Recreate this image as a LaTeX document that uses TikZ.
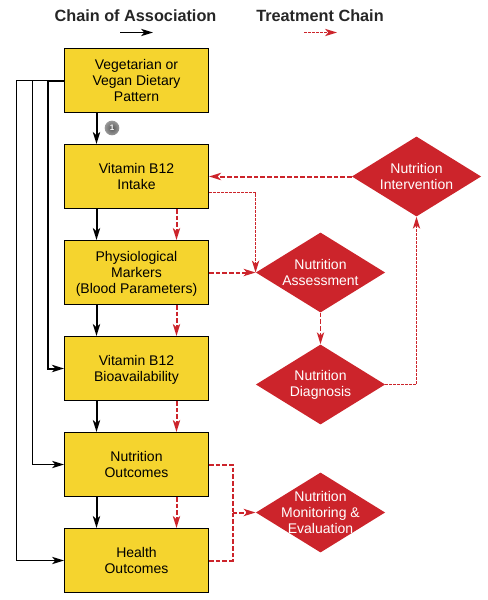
\documentclass[tikz,border=0pt]{standalone}
\usepackage{fontspec}
\setmainfont{Liberation Sans}
\usetikzlibrary{shapes.geometric,arrows.meta}
\definecolor{boxyellow}{HTML}{F5D42E}
\definecolor{chainred}{HTML}{CC242B}
\begin{document}
\begin{tikzpicture}[
    x=0.75pt, y=-0.75pt,
    >={Stealth[length=9pt,width=5.5pt,inset=2.5pt]},
    factor/.style={draw, line width=0.75pt, rectangle, minimum width=108pt, minimum height=48pt, align=center, fill=boxyellow, font=\fontsize{10.5}{12}\selectfont},
    action/.style={diamond, aspect=1.6, inner sep=-8pt, minimum width=97pt, minimum height=60pt, align=center, fill=chainred, text=white, font=\fontsize{10.5}{12}\selectfont},
    heading/.style={font=\fontsize{12.2}{14}\selectfont\bfseries, text=black!85},
    assoc/.style={->, line width=1.5pt},
    assocthin/.style={->, line width=0.75pt},
    treat/.style={->, draw=chainred, line width=1.5pt, dash pattern=on 3.5pt off 1.5pt},
    treatthin/.style={->, draw=chainred, line width=0.75pt, dash pattern=on 2.25pt off 0.75pt}
]
  \useasboundingbox (0,0) rectangle (488,600);

  % Legend
  \node[heading] (chainhead) at (135.5,16) {Chain of Association};
  \node[heading] (treathead) at (320,16) {Treatment Chain};
  \coordinate (assocstart) at (120,32.5);
  \coordinate (assocend) at (153,32.5);
  \coordinate (treatstart) at (304,32.5);
  \coordinate (treatend) at (337,32.5);
  \draw[assocthin] (assocstart) -- (assocend);
  \draw[treatthin] (treatstart) -- (treatend);

  % Chain of association
  \node[factor] (diet) at (136.5,80.5) {Vegetarian or\\Vegan Dietary\\Pattern};
  \node[factor] (intake) at (136.5,176.5) {Vitamin B12\\Intake};
  \node[factor] (markers) at (136.5,272.5) {Physiological\\Markers\\\smash{(Blood Parameters)}};
  \node[factor] (bioavail) at (136.5,368.5) {Vitamin B12\\\smash{Bioavailability}};
  \node[factor] (nutrition) at (136.5,464.5) {Nutrition\\Outcomes};
  \node[factor] (health) at (136.5,560.5) {Health\\Outcomes};

  % Treatment chain
  \node[action] (assess) at (320.5,272.5) {Nutrition\\Assessment};
  \node[action] (diagnosis) at (320.5,384.5) {Nutrition\\Diagnosis};
  \node[action] (intervene) at (416.5,176.5) {Nutrition\\Intervention};
  \node[action] (monitor) at (320.5,512.5) {Nutrition\\Monitoring \&\\Evaluation};
  \coordinate (merge) at (232.5,512.5);

  \node[circle, minimum size=11pt, inner sep=0pt, shading=radial, inner color=black!65, outer color=black!40, text=white, font=\fontsize{6}{6}\selectfont\bfseries] (note) at (112,128) {1};

  \draw[assoc] ([xshift=-30pt]diet.south) -- ([xshift=-30pt]intake.north);
  \draw[assoc] ([xshift=-30pt]intake.south) -- ([xshift=-30pt]markers.north);
  \draw[assoc] ([xshift=-30pt]markers.south) -- ([xshift=-30pt]bioavail.north);
  \draw[assoc] ([xshift=-30pt]bioavail.south) -- ([xshift=-30pt]nutrition.north);
  \draw[assoc] ([xshift=-30pt]nutrition.south) -- ([xshift=-30pt]health.north);

  \draw[assoc] (diet.west) -- ++(-16,0) |- (bioavail.west);
  \draw[assocthin] (diet.west) -- ++(-32,0) |- (nutrition.west);
  \draw[assocthin] (diet.west) -- ++(-48,0) |- (health.west);

  \draw[treat] ([xshift=30pt]intake.south) -- ([xshift=30pt]markers.north);
  \draw[treat] ([xshift=30pt]markers.south) -- ([xshift=30pt]bioavail.north);
  \draw[treat] ([xshift=30pt]bioavail.south) -- ([xshift=30pt]nutrition.north);
  \draw[treat] ([xshift=30pt]nutrition.south) -- ([xshift=30pt]health.north);

  \draw[treat] (intervene.west) -- (intake.east);
  \draw[treatthin] ([yshift=-12pt]intake.east) -| (assess.west);
  \draw[treat] (markers.east) -- (assess.west);
  \draw[treat, line width=1pt] (assess.south) -- (diagnosis.north);
  \draw[treatthin] (diagnosis.east) -| (intervene.south);

  \draw[treat, -] (nutrition.east) -| (merge);
  \draw[treat, -] (health.east) -| (merge);
  \draw[treat] (merge) -- (monitor.west);
\end{tikzpicture}
\end{document}
